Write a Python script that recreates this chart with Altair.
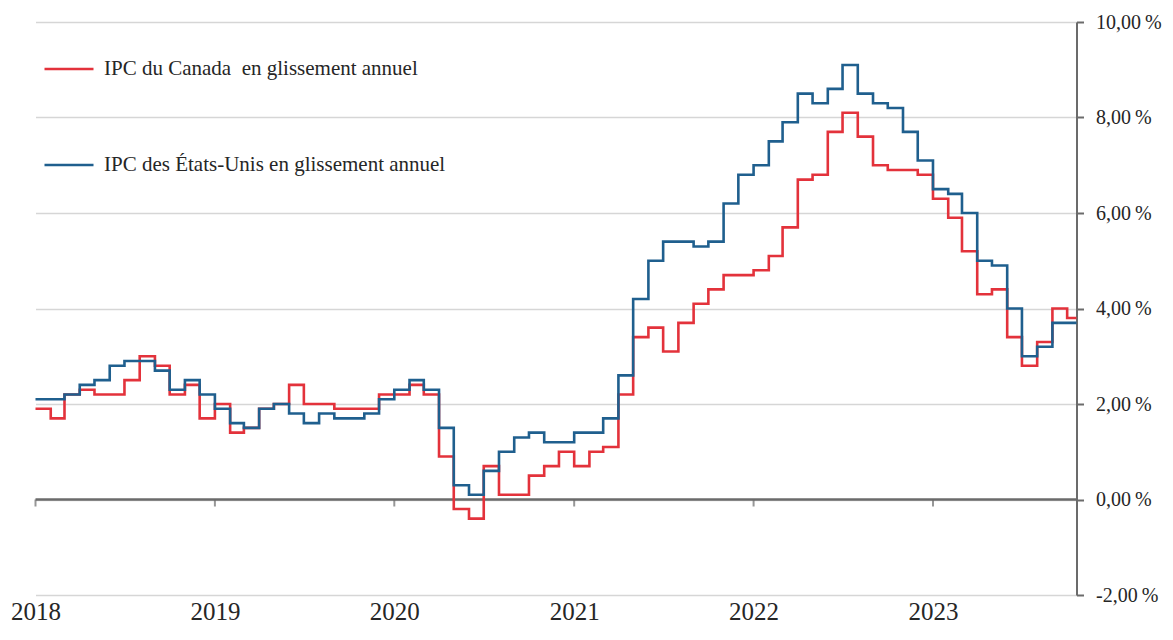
import altair as alt
import pandas as pd

# Observation months (year-over-year CPI), Dec 2017 .. Sep 2023
months = pd.date_range("2017-12-01", "2023-09-01", freq="MS").strftime("%Y-%m").tolist()

canada = [1.9,
          1.7, 2.2, 2.3, 2.2, 2.2, 2.5, 3.0, 2.8, 2.2, 2.4, 1.7, 2.0,
          1.4, 1.5, 1.9, 2.0, 2.4, 2.0, 2.0, 1.9, 1.9, 1.9, 2.2, 2.2,
          2.4, 2.2, 0.9, -0.2, -0.4, 0.7, 0.1, 0.1, 0.5, 0.7, 1.0, 0.7,
          1.0, 1.1, 2.2, 3.4, 3.6, 3.1, 3.7, 4.1, 4.4, 4.7, 4.7, 4.8,
          5.1, 5.7, 6.7, 6.8, 7.7, 8.1, 7.6, 7.0, 6.9, 6.9, 6.8, 6.3,
          5.9, 5.2, 4.3, 4.4, 3.4, 2.8, 3.3, 4.0, 3.8]

usa = [2.1,
       2.1, 2.2, 2.4, 2.5, 2.8, 2.9, 2.9, 2.7, 2.3, 2.5, 2.2, 1.9,
       1.6, 1.5, 1.9, 2.0, 1.8, 1.6, 1.8, 1.7, 1.7, 1.8, 2.1, 2.3,
       2.5, 2.3, 1.5, 0.3, 0.1, 0.6, 1.0, 1.3, 1.4, 1.2, 1.2, 1.4,
       1.4, 1.7, 2.6, 4.2, 5.0, 5.4, 5.4, 5.3, 5.4, 6.2, 6.8, 7.0,
       7.5, 7.9, 8.5, 8.3, 8.6, 9.1, 8.5, 8.3, 8.2, 7.7, 7.1, 6.5,
       6.4, 6.0, 5.0, 4.9, 4.0, 3.0, 3.2, 3.7, 3.7]

series_names = ["IPC du Canada\u00a0 en glissement annuel",
                "IPC des États-Unis en glissement annuel"]
series_colors = ["#E3323B", "#1F5F8E"]

year_ticks = ["2018", "2019", "2020", "2021", "2022", "2023"]
y_ticks = [-2, 0, 2, 4, 6, 8, 10]

x_start = "2018-01-01"
x_end = "2023-10-20"

# Each monthly value is held over the following month (step line)
starts = (pd.to_datetime(months) + pd.offsets.MonthBegin(1)).strftime("%Y-%m-%d").tolist()

rows = []
for name, vals in zip(series_names, [canada, usa]):
    for d, v in zip(starts, vals):
        rows.append({"date": d, "value": v, "serie": name})
    rows.append({"date": x_end, "value": vals[-1], "serie": name})
df = pd.DataFrame(rows)

ticks_df = pd.DataFrame({"date": [f"{y}-01-01" for y in year_ticks], "value": [0] * len(year_ticks)})
zero_df = pd.DataFrame({"value": [0]})

FONT = "Liberation Serif"
AXIS_GRAY = "#6b6b6b"
TEXT = "#262626"

x_scale = alt.Scale(type="utc", domain=[x_start, x_end], nice=False)
y_scale = alt.Scale(domain=[-2, 10], nice=False, zero=False)

x_axis = alt.Axis(
    values=[alt.DateTime(year=int(y), month=1, date=1, utc=True) for y in year_ticks],
    labelExpr="utcFormat(datum.value, '%Y')",
    domain=False, ticks=False, tickSize=0, grid=False,
    labelFont=FONT, labelFontSize=25, labelColor=TEXT,
    labelBaseline="alphabetic", labelPadding=24,
    labelAlign="center", labelFlush=False, labelOverlap=False,
    labelBound=False, title=None)

y_axis = alt.Axis(
    orient="right", values=y_ticks, title=None,
    labelExpr="(datum.value < 0 ? '-' : '') + replace(format(abs(datum.value), '.2f'), '.', ',') + '\u2009%'",
    labelFont=FONT, labelFontSize=20, labelColor=TEXT,
    labelAlign="left", labelBaseline="middle", labelPadding=12,
    domain=True, domainColor=AXIS_GRAY, domainWidth=2,
    ticks=True, tickSize=7, tickColor=AXIS_GRAY, tickWidth=2,
    grid=True, gridColor="#d6d6d6", gridWidth=1.5)

zero_line = alt.Chart(zero_df).mark_rule(color=AXIS_GRAY, strokeWidth=2.5).encode(
    y=alt.Y("value:Q", scale=y_scale, axis=y_axis)
)

year_marks = alt.Chart(ticks_df).mark_tick(
    orient="vertical", size=7, thickness=2, yOffset=3.5, color=AXIS_GRAY
).encode(
    x=alt.X("date:T", scale=x_scale, axis=x_axis),
    y=alt.Y("value:Q", scale=y_scale, axis=y_axis)
)

lines = alt.Chart(df).mark_line(interpolate="step-after", strokeWidth=2.6).encode(
    x=alt.X("date:T", scale=x_scale, axis=x_axis),
    y=alt.Y("value:Q", scale=y_scale, axis=y_axis),
    color=alt.Color("serie:N",
                    scale=alt.Scale(domain=series_names, range=series_colors),
                    sort=series_names,
                    legend=alt.Legend(
                        title=None, orient="none", direction="vertical",
                        legendX=7.5, legendY=21, padding=0,
                        symbolType="stroke", symbolSize=2401, symbolStrokeWidth=2.6,
                        labelFont=FONT, labelFontSize=21, labelColor=TEXT,
                        labelOffset=9, rowPadding=60, labelLimit=0)),
    order=alt.Order("serie:N")
)

chart = alt.layer(zero_line, year_marks, lines).properties(
    width=1041, height=573,
    autosize=alt.AutoSizeParams(type="none"),
    padding={"left": 27.5, "top": 14, "right": 88, "bottom": 30},
    background="white"
).configure_view(stroke=None)

chart.save("out.html", embed_options={"renderer": "svg", "actions": False})
